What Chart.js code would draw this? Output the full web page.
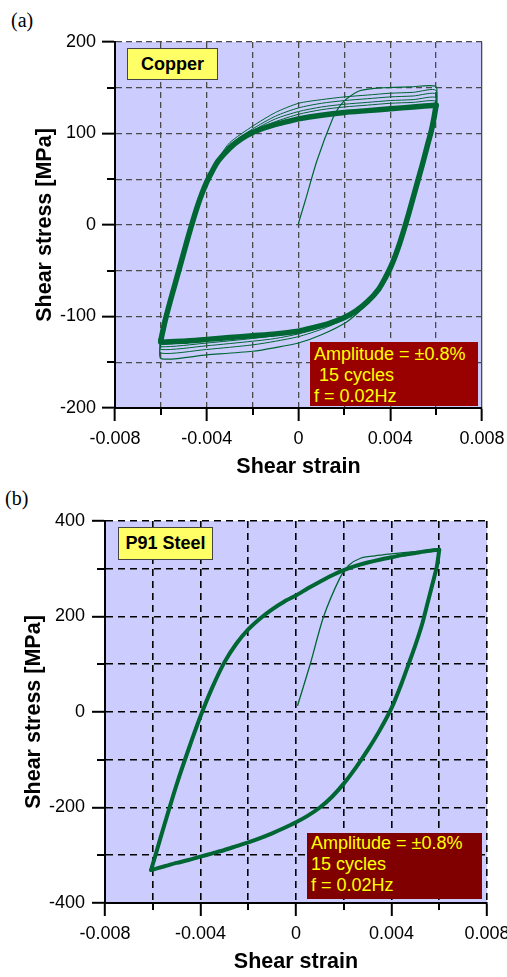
<!DOCTYPE html>
<html>
<head>
<meta charset="utf-8">
<script src="https://cdn.jsdelivr.net/npm/chart.js@4.4.1/dist/chart.umd.min.js"></script>
<style>
  html, body { margin: 0; padding: 0; background: #fff; }
  body { position: relative; width: 507px; height: 977px; overflow: hidden; font-family: "Liberation Sans", Arial, sans-serif; }
  canvas { position: absolute; left: 0; }
  .panel { position: absolute; font-family: "Liberation Serif", "Times New Roman", serif; font-size: 20px; line-height: 20px; }
  .tag { position: absolute; background: #ffff66; border: 1px solid #444; font-weight: bold; font-size: 18px; text-align: center; box-sizing: border-box; }
  .note { position: absolute; color: #ffff00; font-size: 18px; line-height: 21px; box-sizing: border-box; padding-left: 4px; }
</style>
</head>
<body>
<div class="panel" style="left:11px; top:10px;">(a)</div>
<div class="panel" style="left:5px; top:488px;">(b)</div>
<canvas id="copper" width="507" height="485" style="top:0"></canvas>
<canvas id="steel" width="507" height="492" style="top:485px"></canvas>
<div class="tag" style="left:127px; top:48px; width:91px; height:32px; line-height:30px;">Copper</div>
<div class="tag" style="left:118px; top:527px; width:95px; height:33px; line-height:31px;">P91 Steel</div>
<div class="note" style="left:310px; top:342px; width:168px; height:64px; background:#990000; padding-top:2px;">Amplitude = ±0.8%<br>&nbsp;15 cycles<br>f = 0.02Hz</div>
<div class="note" style="left:307px; top:833px; width:175px; height:66px; background:#800000; padding-top:0;">Amplitude = ±0.8%<br>15 cycles<br>f = 0.02Hz</div>
<script>
// axis ticks (empty label = minor tick)
const strainTicks = [-0.008, -0.006, -0.004, -0.002, 0, 0.002, 0.004, 0.006, 0.008];
const strainLabels = ['-0.008', '', '-0.004', '', '0', '', '0.004', '', '0.008'];
const cuStressTicks = [-200, -150, -100, -50, 0, 50, 100, 150, 200];
const cuStressLabels = ['-200', '', '-100', '', '0', '', '100', '', '200'];
const stStressTicks = [-400, -300, -200, -100, 0, 100, 200, 300, 400];
const stStressLabels = ['-400', '', '-200', '', '0', '', '200', '', '400'];

// copper: stabilised loop (the thick band)
const cuBandUpX = [-0.006, -0.0059, -0.0058, -0.0056, -0.0054, -0.0052, -0.005, -0.0048, -0.0046, -0.0044, -0.0042, -0.004, -0.0038, -0.0035, -0.003, -0.0025, -0.002, -0.0015, -0.001, -0.0005, 0, 0.001, 0.002, 0.003, 0.004, 0.005, 0.006];
const cuBandUpY = [-126, -114, -103, -84, -66, -48, -30, -12, 5, 21, 35, 47, 57, 70, 84, 94, 101, 106, 110, 113, 116, 120, 123, 125, 127, 129, 131];
const cuBandDownX = [0.006, 0.0059, 0.0058, 0.0056, 0.0054, 0.0052, 0.005, 0.0048, 0.0046, 0.0044, 0.0042, 0.004, 0.0038, 0.0035, 0.003, 0.0025, 0.002, 0.0015, 0.001, 0.0005, 0, -0.001, -0.002, -0.003, -0.004, -0.005, -0.006, -0.006];
const cuBandDownY = [131, 116, 104, 85, 66, 48, 30, 12, -5, -21, -35, -47, -57, -70, -84, -94, -101, -106, -110, -113, -116, -119, -121, -123, -125, -127, -128, -126];

// copper: first loading + first reversal
const cuFirstX = [0, 0.0003, 0.0008, 0.0015, 0.0018, 0.0021, 0.0027, 0.0037, 0.0049, 0.006, 0.0059, 0.0057, 0.0054, 0.0051, 0.0048, 0.0044, 0.004, 0.0034, 0.0028, 0.0021, 0.001, 0, -0.001, -0.002, -0.004, -0.006, -0.006];
const cuFirstY = [2, 27, 70, 117, 130, 138, 147, 150, 151, 151, 125, 98, 68, 39, 11, -22, -48, -75, -91, -106, -120, -129, -134, -138, -142, -146, -126];

// copper: early cycles, upper branches
const cuUpX = [-0.0039, -0.0034, -0.003, -0.002, -0.001, 0, 0.001, 0.002, 0.003, 0.004, 0.005, 0.006, 0.0059];
const cuCycle2UpY = [52, 76, 90, 108, 123, 133, 137, 140, 142, 144, 145, 147, 116];
const cuCycle3UpY = [52, 75, 88, 105, 119, 128, 133, 136, 138, 140, 141, 143, 116];
const cuCycle4UpY = [52, 74, 87, 103, 116, 124, 129, 132, 134, 136, 137, 139, 116];
const cuCycle5UpY = [52, 73, 86, 102, 113, 121, 126, 129, 131, 133, 134, 135, 116];

// copper: early cycles, lower branches
const cuLowX = [0.0036, 0.003, 0.002, 0.001, 0, -0.001, -0.002, -0.004, -0.006, -0.006];
const cuCycle2LowY = [-66, -86, -103, -114, -122, -127, -131, -136, -140, -126];
const cuCycle3LowY = [-66, -85, -102, -112, -119, -124, -127, -132, -136, -126];
const cuCycle4LowY = [-66, -85, -101, -111, -117, -121, -124, -129, -133, -126];

// P91 steel
const stFirstX = [0.00007, 0.0006, 0.00115, 0.00185, 0.0022, 0.0027, 0.0033, 0.004, 0.005, 0.006];
const stFirstY = [14, 101, 199, 282, 307, 322, 327, 331, 336, 340];
const stUpX = [-0.00607, -0.0058, -0.0055, -0.005, -0.0045, -0.004, -0.0035, -0.003, -0.0025, -0.002, -0.0015, -0.001, -0.0005, 0, 0.0005, 0.001, 0.0015, 0.002, 0.0025, 0.003, 0.0035, 0.004, 0.0045, 0.005, 0.0055, 0.006];
const stUpY = [-331, -285, -234, -152, -78, -9, 52, 104, 143, 173, 196, 215, 231, 244, 259, 273, 286, 297, 306, 313, 319, 324, 329, 333, 337, 340];
const stDownX = [0.006, 0.0059, 0.0057, 0.0055, 0.0053, 0.005, 0.0047, 0.0044, 0.004, 0.0035, 0.003, 0.0025, 0.002, 0.0015, 0.001, 0.0005, 0, -0.0005, -0.001, -0.0015, -0.002, -0.0025, -0.003, -0.0035, -0.004, -0.0045, -0.005, -0.0055, -0.00607];
const stDownY = [340, 305, 265, 226, 187, 140, 98, 57, 8, -39, -80, -117, -150, -178, -200, -217, -231, -243, -254, -264, -273, -281, -289, -296, -303, -310, -316, -323, -331];

const GREEN = '#006633';
const tickFont = { family: '"Liberation Sans", Arial, sans-serif', size: 18 };
const titleFont = { family: '"Liberation Sans", Arial, sans-serif', size: 21.5, weight: 'bold' };

function pts(xs, ys) {
  return xs.map((x, i) => ({ x: x, y: ys[i] }));
}

function line(xs, ys, width) {
  return {
    data: pts(xs, ys),
    showLine: true,
    pointRadius: 0,
    borderColor: GREEN,
    borderWidth: width,
    borderJoinStyle: 'round',
    borderCapStyle: 'round',
    tension: 0.25,
    fill: false
  };
}

const plotBg = {
  id: 'plotBg',
  beforeDraw(chart) {
    const a = chart.chartArea;
    chart.ctx.save();
    chart.ctx.fillStyle = '#ccccff';
    chart.ctx.fillRect(a.left, a.top, a.right - a.left, a.bottom - a.top);
    chart.ctx.restore();
  }
};

function makeChart(id, datasets, yTicks, yLabels, g) {
  // short minor ticks on both axes
  const minorTicks = {
    id: 'minorTicks',
    afterDraw(chart) {
      const { ctx, scales: { x, y } } = chart;
      ctx.save();
      ctx.strokeStyle = '#000';
      ctx.lineWidth = 2;
      ctx.beginPath();
      strainTicks.forEach((v, i) => {
        if (strainLabels[i]) return;
        const px = Math.round(x.getPixelForValue(v));
        ctx.moveTo(px, x.top);
        ctx.lineTo(px, x.top + 7);
      });
      yTicks.forEach((v, i) => {
        if (yLabels[i]) return;
        const py = Math.round(y.getPixelForValue(v));
        ctx.moveTo(y.right, py);
        ctx.lineTo(y.right - 8, py);
      });
      ctx.stroke();
      ctx.restore();
    }
  };

  return new Chart(document.getElementById(id), {
    type: 'scatter',
    data: { datasets: datasets },
    options: {
      responsive: false,
      animation: false,
      devicePixelRatio: 1,
      events: [],
      layout: { padding: { top: g.top, right: g.right, left: 0, bottom: 0 } },
      plugins: { legend: { display: false }, tooltip: { enabled: false } },
      scales: {
        x: {
          type: 'linear',
          min: -0.008,
          max: 0.008,
          afterBuildTicks: s => { s.ticks = strainTicks.map(v => ({ value: v })); },
          afterFit: s => { s.height = g.xAxisH; s.paddingLeft = 0; s.paddingRight = 0; },
          ticks: { autoSkip: false, maxRotation: 0, padding: 7, color: '#000', font: tickFont,
                   callback: (v, i) => strainLabels[i] },
          grid: { color: g.gridColor, lineWidth: g.gridWidth, tickLength: 13, tickWidth: 2,
                  tickColor: c => strainLabels[c.index] ? '#000' : 'rgba(0,0,0,0)' },
          border: { display: true, color: '#000', width: 2,
                    dash: c => (g.solidRight && c.index === strainTicks.length - 1) ? [] : g.dash },
          title: { display: true, text: 'Shear strain', color: '#000', font: titleFont,
                   padding: { top: 0, bottom: g.xTitlePad } }
        },
        y: {
          type: 'linear',
          min: yTicks[0],
          max: yTicks[yTicks.length - 1],
          afterBuildTicks: s => { s.ticks = yTicks.map(v => ({ value: v })); },
          afterFit: s => { s.width = g.yAxisW; s.paddingTop = 0; s.paddingBottom = 0; },
          ticks: { autoSkip: false, padding: g.yTickPad, color: '#000', font: tickFont,
                   callback: (v, i) => yLabels[i] },
          grid: { color: g.gridColor, lineWidth: g.gridWidth, tickLength: 13, tickWidth: 2,
                  tickColor: c => yLabels[c.index] ? '#000' : 'rgba(0,0,0,0)' },
          border: { display: true, color: '#000', width: 2, dash: g.dash },
          title: { display: true, text: 'Shear stress [MPa]', color: '#000', font: titleFont,
                   padding: { top: g.yTitlePad, bottom: 0 } }
        }
      }
    },
    plugins: [plotBg, minorTicks]
  });
}

makeChart('copper', [
  line(cuBandUpX, cuBandUpY, 5.5),
  line(cuBandDownX, cuBandDownY, 5.5),
  line(cuUpX, cuCycle5UpY, 1),
  line(cuUpX, cuCycle4UpY, 1),
  line(cuUpX, cuCycle3UpY, 1),
  line(cuUpX, cuCycle2UpY, 1),
  line(cuLowX, cuCycle4LowY, 1),
  line(cuLowX, cuCycle3LowY, 1),
  line(cuLowX, cuCycle2LowY, 1),
  line(cuFirstX, cuFirstY, 1.2)
], cuStressTicks, cuStressLabels, {
  top: 42, right: 25, yAxisW: 115, xAxisH: 77,
  xTitlePad: 5, yTitlePad: 32, yTickPad: 6,
  gridColor: '#4a4a4a', gridWidth: 1.3, dash: [6, 4], solidRight: true
});

makeChart('steel', [
  line(stUpX, stUpY, 4),
  line(stDownX, stDownY, 4),
  line(stFirstX, stFirstY, 1.3)
], stStressTicks, stStressLabels, {
  top: 36, right: 20, yAxisW: 105, xAxisH: 74,
  xTitlePad: 2, yTitlePad: 21, yTickPad: 7,
  gridColor: '#000', gridWidth: 1.6, dash: [7, 5], solidRight: false
});
</script>
</body>
</html>
